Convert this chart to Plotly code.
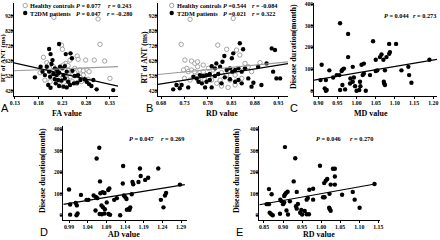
import plotly.graph_objects as go

# ---------------- data ----------------
# Panel A : FA value vs RT of ANT (ms)
a_hc_x = [0.212, 0.305, 0.309, 0.228, 0.230, 0.190, 0.261, 0.263, 0.279, 0.297, 0.319, 0.237,
          0.242, 0.197, 0.202, 0.211, 0.256, 0.261, 0.267, 0.274, 0.282, 0.286, 0.249, 0.242,
          0.228, 0.209, 0.239, 0.247, 0.204, 0.251, 0.270, 0.284, 0.330, 0.225, 0.239, 0.260,
          0.232, 0.221, 0.211, 0.274, 0.267, 0.232, 0.246, 0.256, 0.193, 0.183]
a_hc_y = [909, 898, 729, 724, 696, 642, 651, 629, 624, 624, 618, 602,
          587, 607, 593, 580, 569, 551, 558, 553, 558, 547, 551, 531,
          524, 518, 496, 513, 480, 480, 480, 496, 502, 458, 458, 469,
          509, 562, 547, 524, 509, 591, 624, 540, 491, 540]
a_dm_x = [0.172, 0.184, 0.202, 0.205, 0.223, 0.237, 0.247, 0.250, 0.197, 0.207, 0.214, 0.219,
          0.225, 0.230, 0.235, 0.202, 0.211, 0.218, 0.223, 0.204, 0.214, 0.221, 0.228, 0.235,
          0.242, 0.200, 0.205, 0.216, 0.223, 0.232, 0.239, 0.246, 0.254, 0.261, 0.268, 0.277,
          0.286, 0.291, 0.302, 0.337, 0.256, 0.263, 0.251, 0.193, 0.188, 0.209, 0.239, 0.281,
          0.295, 0.232]
a_dm_y = [509, 580, 698, 664, 731, 664, 669, 636, 580, 598, 569, 558,
          580, 569, 584, 547, 531, 524, 540, 513, 496, 491, 487, 502,
          480, 458, 440, 469, 451, 447, 442, 458, 469, 473, 491, 496,
          464, 451, 429, 424, 518, 524, 553, 524, 547, 624, 547, 480,
          491, 524]
a_fit_x = [0.128, 0.347]
a_hc_fit_y = [553, 580]
a_dm_fit_y = [606, 451]

# Panel B : RD value vs RT of ANT (ms)
b_hc_x = [0.742, 0.834, 0.723, 0.731, 0.735, 0.728, 0.745, 0.752, 0.758, 0.758, 0.745, 0.738,
          0.752, 0.763, 0.770, 0.730, 0.742, 0.760, 0.772, 0.781, 0.788, 0.799, 0.806, 0.809,
          0.823, 0.838, 0.827, 0.801, 0.820, 0.841, 0.848, 0.859, 0.866, 0.873, 0.891, 0.781,
          0.791, 0.809, 0.820, 0.770, 0.715, 0.838, 0.852, 0.756]
b_hc_y = [896, 902, 729, 624, 569, 558, 618, 602, 613, 580, 558, 547,
          547, 540, 547, 502, 491, 491, 496, 509, 491, 469, 491, 451,
          442, 458, 491, 724, 696, 691, 658, 602, 580, 547, 607, 569,
          558, 540, 524, 591, 473, 524, 502, 513]
b_dm_x = [0.706, 0.713, 0.724, 0.720, 0.738, 0.749, 0.756, 0.760, 0.767, 0.774, 0.777, 0.784,
          0.763, 0.770, 0.777, 0.784, 0.795, 0.802, 0.788, 0.795, 0.798, 0.806, 0.811, 0.815,
          0.831, 0.834, 0.848, 0.855, 0.820, 0.827, 0.832, 0.838, 0.845, 0.852, 0.859, 0.816,
          0.827, 0.838, 0.845, 0.852, 0.866, 0.873, 0.877, 0.894, 0.916, 0.923, 0.919, 0.926,
          0.934, 0.905, 0.887, 0.809, 0.788]
b_dm_y = [429, 458, 458, 436, 442, 513, 502, 480, 469, 442, 480, 491,
          524, 518, 524, 531, 518, 531, 584, 569, 602, 580, 613, 651,
          636, 669, 736, 696, 558, 569, 547, 558, 569, 547, 569, 509,
          496, 480, 491, 469, 502, 447, 473, 458, 702, 691, 547, 502,
          502, 602, 580, 469, 442]
b_fit_x = [0.6736, 0.9507]
b_hc_fit_y = [528, 612]
b_dm_fit_y = [462, 600]

# Panel C : MD value vs Disease duration (month)
c_x = [0.957, 0.978, 0.978, 0.909, 0.906, 0.920, 0.917, 0.922, 0.920, 0.929, 0.939, 0.948,
       0.955, 0.961, 0.963, 0.967, 0.957, 0.970, 0.963, 0.984, 0.990, 0.993, 0.990, 0.983,
       0.996, 1.000, 1.007, 1.010, 1.009, 1.013, 1.019, 1.016, 1.019, 1.024, 1.035, 1.043,
       1.050, 1.054, 1.050, 1.061, 1.065, 1.070, 1.072, 1.074, 1.071, 1.074, 1.078, 1.085,
       1.085, 1.087, 1.103, 1.117, 1.135, 1.137, 1.143, 1.190]
c_y = [311, 262, 155, 120, 49, 49, 11, 3, 0, 94, 61, 72,
       72, 91, 97, 102, 3, 6, 26, 56, 41, 61, 110, 33,
       21, 0, 3, 21, 41, 120, 125, 72, 79, 0, 72, 228,
       143, 94, 91, 155, 167, 143, 33, 26, 41, 94, 155, 170,
       216, 178, 216, 94, 110, 72, 37, 143]
c_fit_x = [0.889, 1.2097]
c_fit_y = [49, 145]

# Panel D : AD value vs Disease duration (month)
d_x = [0.990, 0.993, 0.993, 1.008, 1.010, 1.013, 1.011, 1.022, 1.037, 1.042, 1.056, 1.062,
       1.066, 1.061, 1.064, 1.071, 1.073, 1.074, 1.080, 1.085, 1.077, 1.081, 1.086, 1.072,
       1.078, 1.085, 1.091, 1.095, 1.098, 1.096, 1.100, 1.111, 1.118, 1.127, 1.134, 1.135,
       1.137, 1.141, 1.144, 1.145, 1.150, 1.154, 1.152, 1.158, 1.160, 1.162, 1.176, 1.180,
       1.182, 1.194, 1.202, 1.229, 1.236, 1.243, 1.247, 1.250, 1.287]
d_y = [120, 50, 3, 57, 0, 8, 46, 95, 72, 72, 92, 85,
       80, 22, 265, 315, 158, 103, 108, 104, 46, 38, 28, 6,
       5, 8, 60, 118, 125, 6, 2, 72, 80, 0, 148, 230,
       92, 84, 76, 26, 30, 36, 26, 98, 155, 145, 155, 218,
       183, 165, 175, 218, 72, 37, 92, 104, 143]
d_fit_x = [0.9747, 1.30]
d_fit_y = [51, 143]

# Panel E : RD value vs Disease duration (month)
e_x = [0.905, 0.932, 0.997, 1.031, 1.036, 1.036, 1.016, 1.012, 1.008, 1.025, 1.036, 0.928,
       0.863, 0.870, 0.857, 0.863, 0.865, 0.869, 0.873, 0.892, 0.893, 0.896, 0.903, 0.905,
       0.908, 0.912, 0.903, 0.900, 0.918, 0.936, 0.939, 0.934, 0.936, 0.909, 0.913, 0.945,
       0.950, 0.957, 0.962, 0.968, 0.948, 0.969, 0.979, 0.965, 0.962, 0.979, 1.005, 1.009,
       1.021, 1.023, 1.025, 1.022, 1.055, 1.083, 1.088, 1.101, 1.140]
e_y = [318, 266, 231, 217, 217, 181, 169, 161, 150, 143, 143, 158,
       122, 98, 52, 52, 12, 5, 0, 7, 73, 66, 90, 97,
       104, 110, 60, 52, 65, 109, 53, 42, 31, 22, 4, 12,
       4, 20, 5, 5, 25, 119, 124, 81, 73, 73, 84, 84,
       35, 28, 21, 100, 96, 109, 73, 35, 146]
e_fit_x = [0.8377, 1.145]
e_fit_y = [49, 147]

# ---------------- helpers ----------------
W, H = 440, 240
def fx(p):
    return p / W
def fy(p):
    return 1 - p / H

SERIF = "Liberation Serif, Times New Roman, serif"
SANS = "Liberation Sans, Arial, sans-serif"
GRAY = "#9a9a9a"

fig = go.Figure()

def add_pts(x, y, ax, kind):
    if kind == "hc":
        m = dict(symbol="circle", size=4.4, color="white", line=dict(color=GRAY, width=0.9))
    else:
        m = dict(symbol="circle", size=4.4, color="black", line=dict(width=0))
    fig.add_trace(go.Scatter(x=x, y=y, mode="markers", marker=m, xaxis="x" + ax, yaxis="y" + ax,
                             showlegend=False, cliponaxis=False, hoverinfo="skip"))

def add_line(x, y, ax, color):
    fig.add_trace(go.Scatter(x=x, y=y, mode="lines", line=dict(color=color, width=1.2),
                             xaxis="x" + ax, yaxis="y" + ax, showlegend=False, hoverinfo="skip"))

add_pts(a_hc_x, a_hc_y, "", "hc")
add_pts(a_dm_x, a_dm_y, "", "dm")
add_line(a_fit_x, a_hc_fit_y, "", GRAY)
add_line(a_fit_x, a_dm_fit_y, "", "black")

add_pts(b_hc_x, b_hc_y, "2", "hc")
add_pts(b_dm_x, b_dm_y, "2", "dm")
add_line(b_fit_x, b_hc_fit_y, "2", GRAY)
add_line(b_fit_x, b_dm_fit_y, "2", "black")

add_pts(c_x, c_y, "3", "dm")
add_line(c_fit_x, c_fit_y, "3", "black")
add_pts(d_x, d_y, "4", "dm")
add_line(d_fit_x, d_fit_y, "4", "black")
add_pts(e_x, e_y, "5", "dm")
add_line(e_fit_x, e_fit_y, "5", "black")

xtickfont = dict(family=SERIF, size=5.8, color="black", weight="bold")
ytickfont = dict(family=SERIF, size=5.5, color="black", weight="bold")

def xax(dom, rng, t0, anchor):
    return dict(domain=[fx(dom[0]), fx(dom[1])], range=rng, anchor=anchor, tick0=t0, dtick=0.05,
                tickformat=".2f", showline=True, linecolor="black", linewidth=1, ticks="outside",
                ticklen=2, tickcolor="black", tickwidth=1, showgrid=False, zeroline=False,
                tickfont=xtickfont, fixedrange=True, automargin=False, ticklabelstandoff=-1)

def yax(dom, rng, t0, anchor, size=None):
    tf = dict(ytickfont)
    if size:
        tf["size"] = size
    return dict(domain=[fy(dom[1]), fy(dom[0])], range=rng, anchor=anchor, tick0=t0, dtick=100,
                showline=True, linecolor="black", linewidth=1, ticks="outside",
                ticklen=2, tickcolor="black", tickwidth=1, showgrid=False, zeroline=False,
                tickfont=tf, fixedrange=True, automargin=False, ticklabelstandoff=-3)

top = (2.5, 96)
bot = (126.3, 220)
fig.update_layout(
    template="none",
    width=W, height=H, margin=dict(l=0, r=0, t=0, b=0, pad=0, autoexpand=False),
    paper_bgcolor="white", plot_bgcolor="white", showlegend=False,
    xaxis=xax((14, 118), [0.128, 0.347], 0.13, "y"),
    yaxis=yax(top, [384.7, 1008], 420, "x", size=5.2),
    xaxis2=xax((158, 288), [0.6736, 0.9507], 0.68, "y2"),
    yaxis2=yax(top, [384.7, 1008], 420, "x2"),
    xaxis3=xax((314, 437), [0.889, 1.2097], 0.90, "y3"),
    yaxis3=yax(top, [-24.4, 406.9], 0, "x3"),
    xaxis4=xax((63.3, 187), [0.9747, 1.306], 0.99, "y4"),
    yaxis4=yax(bot, [-22, 415], 0, "x4"),
    xaxis5=xax((259.3, 380), [0.8377, 1.1545], 0.85, "y5"),
    yaxis5=yax(bot, [-22, 415], 0, "x5"),
)

ann = []
def text(x, y, s, size=6.3, family=SERIF, weight="bold", xanchor="left", angle=0):
    ann.append(dict(x=fx(x), y=fy(y), xref="paper", yref="paper", text=s, showarrow=False,
                    xanchor=xanchor, yanchor="middle", textangle=angle, borderpad=0,
                    font=dict(family=family, size=size, color="black", weight=weight)))

# axis titles (rotated ones placed a few px left to offset the rotation shift)
text(3.2, 58, "RT of ANT (ms)", size=7, xanchor="center", angle=-90)
text(143.5, 58, "RT of ANT (ms)", size=7.6, xanchor="center", angle=-90)
text(294, 47, "Disease duration(month)", size=8, xanchor="center", angle=-90)
text(42, 171, "Disease duration(month)", size=8, xanchor="center", angle=-90)
text(236, 171, "Disease duration(month)", size=8, xanchor="center", angle=-90)
text(67, 113.5, "FA value", size=8, xanchor="center")
text(222, 113.5, "RD value", size=8, xanchor="center")
text(371, 113.5, "MD value", size=8, xanchor="center")
text(124, 234.8, "AD value", size=8, xanchor="center")
text(319, 234.8, "RD value", size=8, xanchor="center")

# legends and statistics
text(28.5, 5.5, "Healthy controls")
text(28.5, 13, "T2DM patients")
text(75, 5.5, "<i>P</i> = 0.077")
text(106.5, 5.5, "<i>r</i> = 0.243")
text(75, 13, "<i>P</i> = 0.047")
text(106, 13, "<i>r</i> = -0.280")

text(175.5, 5.5, "Healthy controls")
text(175.5, 13, "T2DM patients")
text(222, 5.5, "<i>P</i> =0.544")
text(251, 5.5, "<i>r</i> = -0.084")
text(222, 13, "<i>P</i> =0.021")
text(251, 13, "<i>r</i> = 0.322")

text(383, 15, "<i>P</i> = 0.044")
text(411.5, 15, "<i>r</i> = 0.273")
text(128.3, 138.7, "<i>P</i> = 0.047")
text(160, 138.7, "<i>r</i> = 0.269")
text(315.3, 138.7, "<i>P</i> = 0.046")
text(349.3, 138.7, "<i>r</i> = 0.270")

# panel letters
for lx, ly, s in [(5, 107.5, "A"), (149, 107.5, "B"), (293.5, 107.5, "C"),
                  (43.5, 231.5, "D"), (239.5, 231.5, "E")]:
    text(lx, ly, s, size=11, family=SANS, weight="normal", xanchor="center")

fig.update_layout(annotations=ann)

# legend markers
shapes = []
for cx in (25.2, 171.7):
    r = 2.2
    shapes.append(dict(type="circle", xref="paper", yref="paper",
                       x0=fx(cx - r), x1=fx(cx + r), y0=fy(5.5 + r), y1=fy(5.5 - r),
                       line=dict(color=GRAY, width=0.9), fillcolor="white"))
    shapes.append(dict(type="circle", xref="paper", yref="paper",
                       x0=fx(cx - r), x1=fx(cx + r), y0=fy(13 + r), y1=fy(13 - r),
                       line=dict(width=0), fillcolor="black"))
fig.update_layout(shapes=shapes)

fig.write_html("out.html", config={"displayModeBar": False, "staticPlot": True},
               post_script="document.body.style.margin='0';document.body.style.padding='0';")
